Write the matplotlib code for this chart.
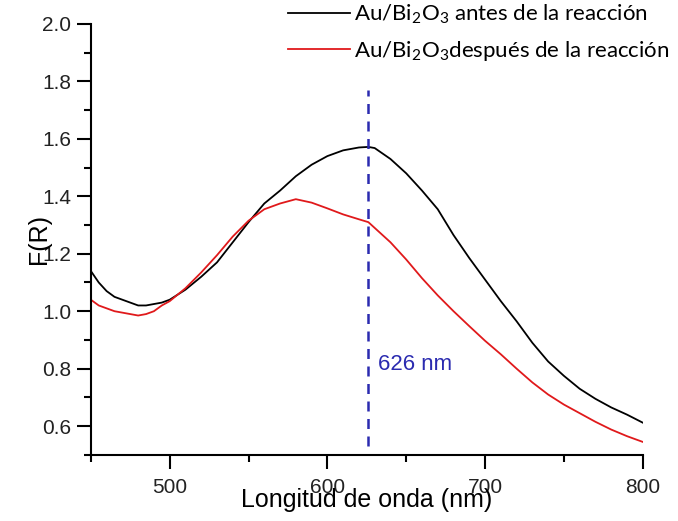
import numpy as np
import matplotlib.pyplot as plt

# datos (longitud de onda en nm, F(R))
wl = [450, 455, 460, 465, 470, 475, 480, 485, 490, 495, 500, 510, 520, 530, 540, 550,
      560, 570, 580, 590, 600, 610, 620, 626, 630, 640, 650, 660, 670, 680, 690,
      700, 710, 720, 730, 740, 750, 760, 770, 780, 790, 800]
antes = [1.14, 1.10, 1.07, 1.05, 1.04, 1.03, 1.02, 1.02, 1.025, 1.03, 1.04, 1.075, 1.12, 1.17, 1.24, 1.31,
         1.375, 1.42, 1.47, 1.51, 1.54, 1.56, 1.57, 1.572, 1.568, 1.53, 1.48, 1.42, 1.355, 1.265, 1.185,
         1.11, 1.035, 0.965, 0.89, 0.825, 0.775, 0.73, 0.695, 0.665, 0.64, 0.612]
despues = [1.04, 1.02, 1.01, 1.00, 0.995, 0.99, 0.985, 0.99, 1.0, 1.02, 1.035, 1.08, 1.135, 1.195, 1.26, 1.315,
           1.355, 1.375, 1.39, 1.378, 1.358, 1.337, 1.32, 1.31, 1.29, 1.24, 1.18, 1.115, 1.055, 1.0, 0.948,
           0.897, 0.85, 0.80, 0.752, 0.71, 0.675, 0.645, 0.615, 0.588, 0.565, 0.545]
pico = 626

plt.rcParams['font.family'] = ['Liberation Sans', 'DejaVu Sans']
plt.rcParams['mathtext.default'] = 'regular'

fig = plt.figure(figsize=(6.78, 5.21), dpi=100)
ax = fig.add_axes([0.134, 0.127, 0.814, 0.827])

l1, = ax.plot(wl, antes, color='black', lw=1.3)
l2, = ax.plot(wl, despues, color='#e0191b', lw=1.3)
ax.plot([pico, pico], [0.53, 1.77], color='#2b2bb0', lw=1.8, ls=(0, (4, 3)))
ax.text(pico + 6, 0.815, '626 nm', color='#2b2bb0', fontsize=16, va='center')

ax.set_xlim(450, 800)
ax.set_ylim(0.5, 2.0)
ax.set_xticks([500, 600, 700, 800])
ax.set_xticks([450, 550, 650, 750], minor=True)
ax.set_yticks(np.arange(0.6, 2.01, 0.2))
ax.set_yticks(np.arange(0.5, 2.01, 0.1), minor=True)
ax.yaxis.set_major_formatter(plt.FormatStrFormatter('%.1f'))

for s in ['top', 'right']:
    ax.spines[s].set_visible(False)
for s in ['left', 'bottom']:
    ax.spines[s].set_linewidth(1.5)
ax.tick_params(which='major', direction='out', length=10, width=1.5, labelsize=15, pad=4, colors='black', labelcolor='#222222')
ax.tick_params(which='minor', direction='out', length=5, width=1.5)
ax.tick_params(axis='x', which='major', pad=7)

ax.set_xlabel('Longitud de onda (nm)', fontsize=18, labelpad=-7)
ax.set_ylabel('F(R)', fontsize=18, labelpad=-6)

leg = fig.legend([l1, l2],
                 ['Au/Bi$_2$O$_3$ antes de la reacción', 'Au/Bi$_2$O$_3$después de la reacción'],
                 loc='upper left', bbox_to_anchor=(288 / 678, 1 - 3 / 521), frameon=False,
                 prop={'family': 'Lato', 'size': 16}, handlelength=2.8, handletextpad=0.15,
                 borderpad=0, borderaxespad=0, labelspacing=0.55)

fig.savefig('out.png', dpi=100)
